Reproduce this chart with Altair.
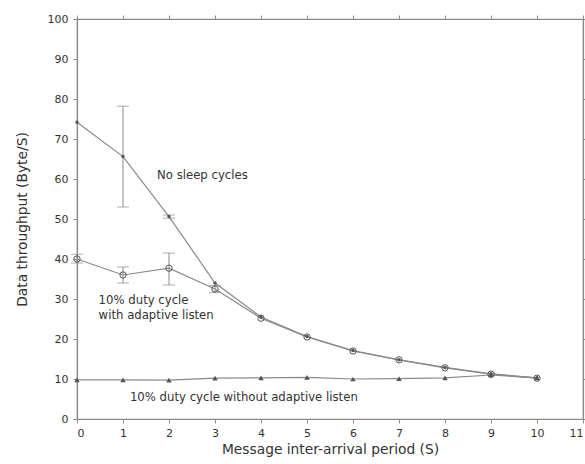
import altair as alt
import pandas as pd

x_vals = [0, 1, 2, 3, 4, 5, 6, 7, 8, 9, 10]
no_sleep = [74.2, 65.6, 50.6, 34.0, 25.5, 20.6, 17.1, 14.8, 12.9, 11.3, 10.3]
adaptive = [40.0, 36.0, 37.7, 32.5, 25.2, 20.5, 17.0, 14.8, 12.8, 11.2, 10.2]
no_adaptive = [9.8, 9.8, 9.7, 10.2, 10.3, 10.4, 10.0, 10.1, 10.3, 11.0, 10.3]

# error bars: series, x, low, high
err_series = ["No sleep", "No sleep", "Adaptive", "Adaptive", "Adaptive", "Adaptive"]
err_x = [1, 2, 0, 1, 2, 3]
err_lo = [53.0, 50.2, 39.0, 34.0, 33.5, 31.6]
err_hi = [78.2, 51.0, 41.2, 38.0, 41.5, 33.4]

labels_text = ["No sleep cycles", "10% duty cycle", "with adaptive listen",
               "10% duty cycle without adaptive listen"]
labels_x = [1.74, 0.47, 0.47, 1.15]
labels_y = [61.0, 29.8, 26.0, 5.6]

rows = []
for name, vals in [("No sleep", no_sleep), ("Adaptive", adaptive), ("Without", no_adaptive)]:
    for xv, yv in zip(x_vals, vals):
        rows.append({"series": name, "x": xv, "y": yv})
df = pd.DataFrame(rows)
edf = pd.DataFrame({"series": err_series, "x": err_x, "lo": err_lo, "hi": err_hi})
ldf = pd.DataFrame({"t": labels_text, "x": labels_x, "y": labels_y})

GRAY = "#8a8a8a"
DARK = "#555555"
FONT = "DejaVu Sans"

xs = alt.Scale(domain=[0, 11], nice=False, zero=False)
ys = alt.Scale(domain=[0, 100], nice=False)

xaxis = alt.Axis(values=list(range(0, 12)), title="Message inter-arrival period (S)",
                 grid=False, tickSize=4, labelPadding=4, titlePadding=4)
yaxis = alt.Axis(values=list(range(0, 101, 10)), title="Data throughput (Byte/S)",
                 grid=False, tickSize=4, labelPadding=5, titlePadding=18)

X = alt.X("x:Q", scale=xs, axis=xaxis)
Y = alt.Y("y:Q", scale=ys, axis=yaxis)
Xn = alt.X("x:Q", scale=xs, axis=None)
Yn = alt.Y("y:Q", scale=ys, axis=None)

lines = alt.Chart(df).mark_line(color=GRAY, strokeWidth=1.2).encode(
    x=X, y=Y, detail="series:N")

pts_ns = alt.Chart(df[df.series == "No sleep"]).mark_point(
    shape="circle", filled=True, size=12, color=DARK, opacity=1).encode(x=Xn, y=Yn)
pts_ad = alt.Chart(df[df.series == "Adaptive"]).mark_point(
    shape="circle", filled=False, size=40, color=DARK, strokeWidth=1, opacity=1).encode(x=Xn, y=Yn)
pts_wo = alt.Chart(df[df.series == "Without"]).mark_point(
    shape="triangle-up", filled=True, size=30, color=DARK, opacity=1).encode(x=Xn, y=Yn)

ebar = alt.Chart(edf).mark_rule(color=GRAY, strokeWidth=1).encode(
    x=Xn, y=alt.Y("lo:Q", scale=ys, axis=None), y2="hi:Q")
cap_lo = alt.Chart(edf).mark_tick(color=GRAY, orient="horizontal", size=12, thickness=1).encode(
    x=Xn, y=alt.Y("lo:Q", scale=ys, axis=None))
cap_hi = alt.Chart(edf).mark_tick(color=GRAY, orient="horizontal", size=12, thickness=1).encode(
    x=Xn, y=alt.Y("hi:Q", scale=ys, axis=None))

texts = alt.Chart(ldf).mark_text(align="left", baseline="middle", font=FONT,
                                 fontSize=11.7, color="#333333").encode(
    x=Xn, y=Yn, text="t:N")

mirror = alt.Chart(df).mark_point(opacity=0).encode(
    x=alt.X("x:Q", scale=xs, axis=alt.Axis(orient="top", values=list(range(0, 12)),
                                           labels=False, title=None, grid=False, tickSize=4)),
    y=alt.Y("y:Q", scale=ys, axis=alt.Axis(orient="right", values=list(range(0, 101, 10)),
                                           labels=False, title=None, grid=False, tickSize=4)))

chart = alt.layer(lines, ebar, cap_lo, cap_hi, pts_ns, pts_ad, pts_wo, texts, mirror).resolve_axis(
    x="independent", y="independent"
).properties(
    width=506, height=400,
    autosize=alt.AutoSizeParams(type="none"),
    padding={"left": 77, "top": 19, "right": 2, "bottom": 45},
    background="white",
).configure_view(stroke=GRAY, strokeWidth=1.2).configure_axis(
    domainColor=GRAY, tickColor=GRAY, labelColor="#333333", titleColor="#333333",
    labelFont=FONT, titleFont=FONT, labelFontSize=11, titleFontSize=13.8,
    titleFontWeight="normal", domainWidth=1.2,
)

chart.save("out.html", embed_options={"renderer": "svg", "actions": False})
